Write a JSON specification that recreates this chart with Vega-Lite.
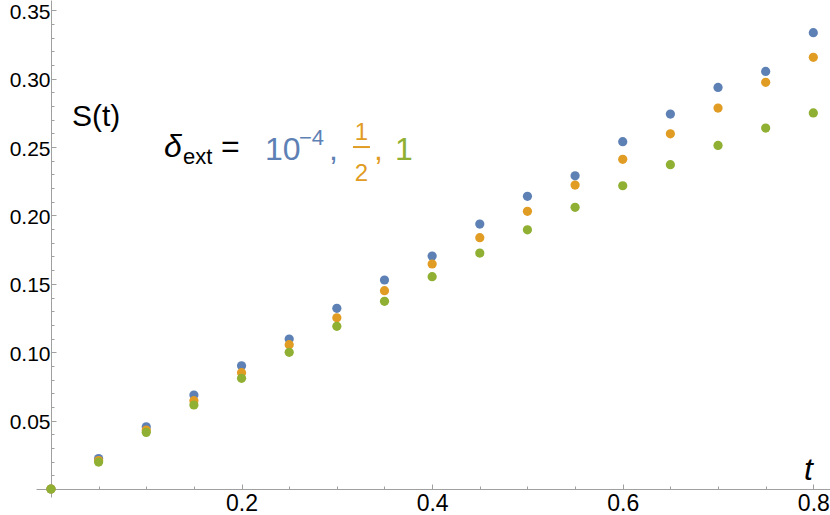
{
  "$schema": "https://vega.github.io/schema/vega-lite/v6.json",
  "autosize": "none",
  "width": 794,
  "height": 497,
  "padding": {"left": 36, "top": 0, "right": 0, "bottom": 18},
  "background": "white",
  "data": {
    "values": [
      {"t": 0, "S": 0, "delta": "1e-4"}, {"t": 0, "S": 0, "delta": "1/2"}, {"t": 0, "S": 0, "delta": "1"},
      {"t": 0.05, "S": 0.0223, "delta": "1e-4"}, {"t": 0.05, "S": 0.0208, "delta": "1/2"}, {"t": 0.05, "S": 0.0197, "delta": "1"},
      {"t": 0.1, "S": 0.0455, "delta": "1e-4"}, {"t": 0.1, "S": 0.0431, "delta": "1/2"}, {"t": 0.1, "S": 0.0414, "delta": "1"},
      {"t": 0.15, "S": 0.0687, "delta": "1e-4"}, {"t": 0.15, "S": 0.0646, "delta": "1/2"}, {"t": 0.15, "S": 0.0614, "delta": "1"},
      {"t": 0.2, "S": 0.0901, "delta": "1e-4"}, {"t": 0.2, "S": 0.085, "delta": "1/2"}, {"t": 0.2, "S": 0.0809, "delta": "1"},
      {"t": 0.25, "S": 0.1096, "delta": "1e-4"}, {"t": 0.25, "S": 0.1055, "delta": "1/2"}, {"t": 0.25, "S": 0.0999, "delta": "1"},
      {"t": 0.3, "S": 0.1321, "delta": "1e-4"}, {"t": 0.3, "S": 0.1252, "delta": "1/2"}, {"t": 0.3, "S": 0.1189, "delta": "1"},
      {"t": 0.35, "S": 0.1528, "delta": "1e-4"}, {"t": 0.35, "S": 0.145, "delta": "1/2"}, {"t": 0.35, "S": 0.1372, "delta": "1"},
      {"t": 0.4, "S": 0.1703, "delta": "1e-4"}, {"t": 0.4, "S": 0.1645, "delta": "1/2"}, {"t": 0.4, "S": 0.1552, "delta": "1"},
      {"t": 0.45, "S": 0.1937, "delta": "1e-4"}, {"t": 0.45, "S": 0.1837, "delta": "1/2"}, {"t": 0.45, "S": 0.1725, "delta": "1"},
      {"t": 0.5, "S": 0.214, "delta": "1e-4"}, {"t": 0.5, "S": 0.203, "delta": "1/2"}, {"t": 0.5, "S": 0.1895, "delta": "1"},
      {"t": 0.55, "S": 0.229, "delta": "1e-4"}, {"t": 0.55, "S": 0.2222, "delta": "1/2"}, {"t": 0.55, "S": 0.2059, "delta": "1"},
      {"t": 0.6, "S": 0.2539, "delta": "1e-4"}, {"t": 0.6, "S": 0.241, "delta": "1/2"}, {"t": 0.6, "S": 0.2217, "delta": "1"},
      {"t": 0.65, "S": 0.2741, "delta": "1e-4"}, {"t": 0.65, "S": 0.2597, "delta": "1/2"}, {"t": 0.65, "S": 0.2371, "delta": "1"},
      {"t": 0.7, "S": 0.2936, "delta": "1e-4"}, {"t": 0.7, "S": 0.2785, "delta": "1/2"}, {"t": 0.7, "S": 0.2512, "delta": "1"},
      {"t": 0.75, "S": 0.3053, "delta": "1e-4"}, {"t": 0.75, "S": 0.2973, "delta": "1/2"}, {"t": 0.75, "S": 0.2639, "delta": "1"},
      {"t": 0.8, "S": 0.3336, "delta": "1e-4"}, {"t": 0.8, "S": 0.3156, "delta": "1/2"}, {"t": 0.8, "S": 0.2749, "delta": "1"}
    ]
  },
  "resolve": {"axis": {"x": "independent", "y": "independent"}},
  "layer": [
    {
      "mark": {"type": "point", "filled": true, "opacity": 0},
      "encoding": {
        "x": {"field": "t", "type": "quantitative",
              "scale": {"domain": [-0.0157, 0.8175], "nice": false, "zero": false},
              "axis": {"orient": "bottom", "offset": -8, "values": [0.05, 0.1, 0.15, 0.25, 0.3, 0.35, 0.45, 0.5, 0.55, 0.65, 0.7, 0.75],
                       "labels": false, "domain": false, "grid": false, "tickSize": -3, "title": null}},
        "y": {"field": "S", "type": "quantitative",
              "scale": {"domain": [-0.00585, 0.3575], "nice": false, "zero": false},
              "axis": {"orient": "left", "offset": -15, "values": [0.01, 0.02, 0.03, 0.04, 0.06, 0.07, 0.08, 0.09, 0.11, 0.12, 0.13, 0.14, 0.16, 0.17, 0.18, 0.19, 0.21, 0.22, 0.23, 0.24, 0.26, 0.27, 0.28, 0.29, 0.31, 0.32, 0.33, 0.34],
                       "labels": false, "domain": false, "grid": false, "tickSize": -3, "title": null}}
      }
    },
    {
      "mark": {"type": "point", "filled": true, "size": 85, "opacity": 1},
      "encoding": {
        "x": {"field": "t", "type": "quantitative",
              "axis": {"orient": "bottom", "offset": -8, "values": [0.2, 0.4, 0.6, 0.8], "format": ".1f",
                       "grid": false, "tickSize": -5, "labelPadding": 8, "labelFontSize": 23, "labelBaseline": "top", "title": null}},
        "y": {"field": "S", "type": "quantitative",
              "axis": {"orient": "left", "offset": -15, "values": [0.05, 0.1, 0.15, 0.2, 0.25, 0.3, 0.35], "format": ".2f",
                       "grid": false, "tickSize": -5, "labelPadding": 6, "labelFontSize": 21, "labelOffset": 2, "title": null}},
        "color": {"field": "delta", "type": "nominal", "legend": null,
                  "scale": {"domain": ["1e-4", "1/2", "1"], "range": ["#5E81B5", "#E19C24", "#8FB032"]}}
      }
    },
    {
      "data": {"values": [{}]},
      "mark": {"type": "text", "text": "S(t)", "fontSize": 30, "align": "left", "baseline": "alphabetic", "color": "black"},
      "encoding": {"x": {"datum": 0.022, "axis": null}, "y": {"datum": 0.2654, "axis": null}}
    },
    {
      "data": {"values": [{}]},
      "mark": {"type": "text", "text": "δ", "fontSize": 32, "fontStyle": "italic", "align": "left", "baseline": "alphabetic", "color": "black"},
      "encoding": {"x": {"datum": 0.1186, "axis": null}, "y": {"datum": 0.2427, "axis": null}}
    },
    {
      "data": {"values": [{}]},
      "mark": {"type": "text", "text": "ext", "fontSize": 22, "align": "left", "baseline": "alphabetic", "color": "black"},
      "encoding": {"x": {"datum": 0.1385, "axis": null}, "y": {"datum": 0.2376, "axis": null}}
    },
    {
      "data": {"values": [{}]},
      "mark": {"type": "text", "text": "=", "fontSize": 32, "align": "left", "baseline": "alphabetic", "color": "black"},
      "encoding": {"x": {"datum": 0.1784, "axis": null}, "y": {"datum": 0.2427, "axis": null}}
    },
    {
      "data": {"values": [{}]},
      "mark": {"type": "text", "text": "10", "fontSize": 32, "align": "left", "baseline": "alphabetic", "color": "#5E81B5"},
      "encoding": {"x": {"datum": 0.2246, "axis": null}, "y": {"datum": 0.2405, "axis": null}}
    },
    {
      "data": {"values": [{}]},
      "mark": {"type": "text", "text": "−4", "fontSize": 22, "align": "left", "baseline": "alphabetic", "color": "#5E81B5"},
      "encoding": {"x": {"datum": 0.2602, "axis": null}, "y": {"datum": 0.2515, "axis": null}}
    },
    {
      "data": {"values": [{}]},
      "mark": {"type": "text", "text": ",", "fontSize": 32, "align": "left", "baseline": "alphabetic", "color": "#5E81B5"},
      "encoding": {"x": {"datum": 0.2917, "axis": null}, "y": {"datum": 0.2405, "axis": null}}
    },
    {
      "data": {"values": [{}]},
      "mark": {"type": "text", "text": "1", "fontSize": 24, "align": "center", "baseline": "alphabetic", "color": "#E19C24"},
      "encoding": {"x": {"datum": 0.3258, "axis": null}, "y": {"datum": 0.2551, "axis": null}}
    },
    {
      "data": {"values": [{}]},
      "mark": {"type": "rule", "strokeWidth": 2, "color": "#E19C24"},
      "encoding": {"x": {"datum": 0.3169, "axis": null}, "x2": {"datum": 0.3347}, "y": {"datum": 0.25, "axis": null}}
    },
    {
      "data": {"values": [{}]},
      "mark": {"type": "text", "text": "2", "fontSize": 24, "align": "center", "baseline": "alphabetic", "color": "#E19C24"},
      "encoding": {"x": {"datum": 0.3258, "axis": null}, "y": {"datum": 0.2251, "axis": null}}
    },
    {
      "data": {"values": [{}]},
      "mark": {"type": "text", "text": ",", "fontSize": 32, "align": "left", "baseline": "alphabetic", "color": "#E19C24"},
      "encoding": {"x": {"datum": 0.3389, "axis": null}, "y": {"datum": 0.2405, "axis": null}}
    },
    {
      "data": {"values": [{}]},
      "mark": {"type": "text", "text": "1", "fontSize": 32, "align": "left", "baseline": "alphabetic", "color": "#8FB032"},
      "encoding": {"x": {"datum": 0.361, "axis": null}, "y": {"datum": 0.2405, "axis": null}}
    },
    {
      "data": {"values": [{}]},
      "mark": {"type": "text", "text": "t", "fontSize": 32, "fontStyle": "italic", "align": "left", "baseline": "alphabetic", "color": "black"},
      "encoding": {"x": {"datum": 0.7901, "axis": null}, "y": {"datum": 0.0066, "axis": null}}
    }
  ],
  "config": {
    "view": {"stroke": null},
    "font": "Liberation Sans",
    "axis": {
      "domainColor": "#a0a0a0",
      "tickColor": "#a0a0a0",
      "labelColor": "black",
      "labelFont": "Liberation Sans"
    }
  }
}
